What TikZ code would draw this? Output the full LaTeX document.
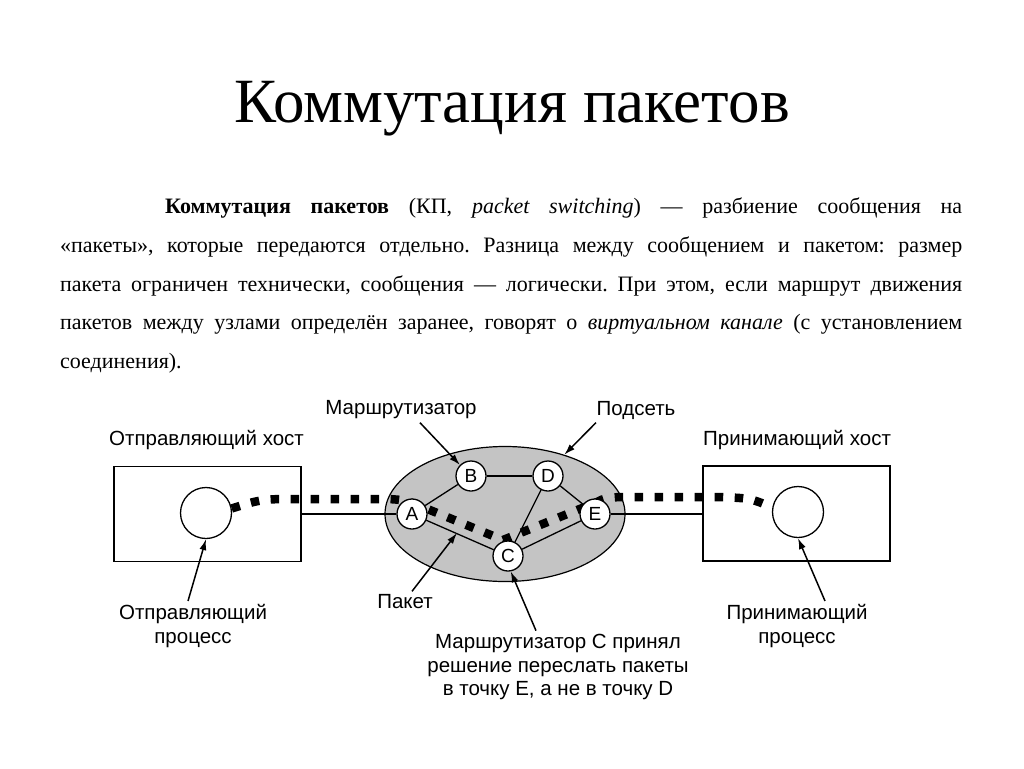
\documentclass[tikz,border=0pt]{standalone}
\usepackage{fontspec}
\setmainfont{Liberation Serif}
\setsansfont{Liberation Sans}
\usetikzlibrary{arrows.meta,shapes.geometric}

\tikzset{
  router/.style={circle, draw, fill=white, line width=1.3pt, minimum size=30pt,
    inner sep=0pt, font=\sffamily\fontsize{19}{19}\selectfont},
  hostbox/.style={draw, line width=1.3pt, minimum width=187pt, minimum height=95pt},
  hostproc/.style={circle, draw, line width=1.3pt, minimum size=51pt},
  caption/.style={font=\sffamily\fontsize{20.5}{23.5}\selectfont, align=center},
  pointer/.style={-{Latex[length=11pt,width=7pt]}, line width=1.5pt},
  link/.style={line width=1.3pt},
  packets/.style={line width=8.5pt, dash pattern=on 8.5pt off 11.5pt},
}

\begin{document}
\frenchspacing
\begin{tikzpicture}[x=1pt,y=-1pt]
  \fill[white] (0,0) rectangle (1024,768);
  \useasboundingbox (0,0) rectangle (1024,768);
  % heading and text
  \node[anchor=base, font=\fontsize{63}{63}\selectfont] (title) at (512,122) {Коммутация пакетов};
  \node[anchor=north west, inner sep=0pt, align=left, font=\fontsize{22}{38.6}\selectfont] (text) at (60,198)
    {\hspace*{105pt}\makebox[797pt][s]{\textbf{Коммутация пакетов} (КП, \textit{packet switching}) — разбиение сообщения на}\\
     \makebox[902pt][s]{«пакеты», которые передаются отдельно. Разница между сообщением и пакетом: размер}\\
     \makebox[902pt][s]{пакета ограничен технически, сообщения — логически. При этом, если маршрут движения}\\
     \makebox[902pt][s]{пакетов между узлами определён заранее, говорят о \textit{виртуальном канале} (с установлением}\\
     соединения).};
  % hosts
  \node[hostbox] (lbox) at (207.5,514) {};
  \node[hostbox] (rbox) at (796.5,513.5) {};
  \node[hostproc] (lproc) at (206,513) {};
  \node[hostproc] (rproc) at (798,512) {};
  % subnet
  \node[ellipse, draw, line width=1.2pt, fill=black!23, minimum width=240pt, minimum height=135pt] (subnet) at (505,514) {};
  \draw[packets] (lproc.10) .. controls (262,499) .. (300,499) -- (388,499)
    .. controls (405,500) .. (425,508) -- (503,540) -- (597,502)
    .. controls (605,498) .. (620,497) -- (715,497) .. controls (750,498) .. (rproc.170);
  \coordinate (pkttip) at (457,533);
  % routers
  \node[router] (A) at (412,514) {A};
  \node[router] (B) at (471,476) {B};
  \node[router] (C) at (508,556) {C};
  \node[router] (D) at (548,476) {D};
  \node[router] (E) at (595,514) {E};
  \foreach \u/\v in {A/B,B/D,D/E,D/C,A/C,C/E}
    \draw[link] (\u) -- (\v);
  \draw[link] (A) -- (A -| lbox.east);
  \draw[link] (E) -- (E -| rbox.west);
  % labels
  \node[caption] (rtrlbl) at (401,410) {Маршрутизатор};
  \node[caption] (netlbl) at (636,410) {Подсеть};
  \node[caption] (lhostlbl) at (206.5,440) {Отправляющий хост};
  \node[caption] (rhostlbl) at (797,440) {Принимающий хост};
  \node[caption] (lproclbl) at (193,626) {Отправляющий\\процесс};
  \node[caption] (rproclbl) at (797,626) {Принимающий\\процесс};
  \node[caption] (pktlbl) at (405,602) {Пакет};
  \node[caption] (notelbl) at (558,667) {Маршрутизатор С принял\\решение переслать пакеты\\в точку Е, а не в точку D};
  \draw[pointer] ([xshift=19pt]rtrlbl.south) -- (B.north west);
  \draw[pointer] ([xshift=-40pt]netlbl.south) -- (subnet.45);
  \draw[pointer] ([xshift=7pt]pktlbl.north) -- (pkttip);
  \draw[pointer] ([xshift=-22pt]notelbl.north) -- (C.-80);
  \draw[pointer] ([xshift=-5pt]lproclbl.north) -- (lproc.south);
  \draw[pointer] ([xshift=28pt]rproclbl.north) -- (rproc.south);
\end{tikzpicture}
\end{document}
